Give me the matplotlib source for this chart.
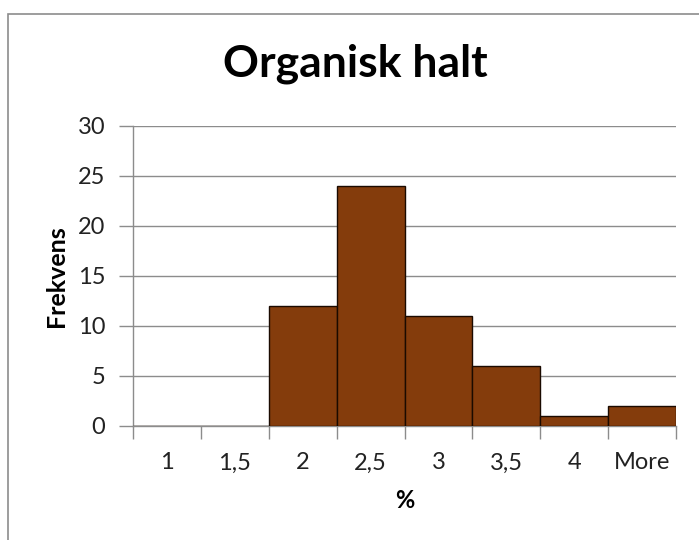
import matplotlib
matplotlib.use("Agg")
import matplotlib.pyplot as plt
from matplotlib.patches import Rectangle
import numpy as np

# Histogram bins and counts
bins = ["1", "1,5", "2", "2,5", "3", "3,5", "4", "More"]
counts = [0, 0, 12, 24, 11, 6, 1, 2]
y_ticks = [0, 5, 10, 15, 20, 25, 30]

plt.rcParams["font.family"] = ["Lato", "DejaVu Sans"]

fig = plt.figure(figsize=(6.99, 5.40), dpi=100)
ax = fig.add_axes([133 / 699, 1 - 426 / 540, 543 / 699, 300 / 540])

# Chart frame, only left and top visible
fig.patches.append(Rectangle((7.5 / 699, -0.1), 1.2, 1 - 13.5 / 540 + 0.1,
                             transform=fig.transFigure, fill=False,
                             edgecolor="#8c8c8c", linewidth=1.2))

x = np.arange(len(bins))
ax.bar(x, counts, width=1.0, color="#843C0C", edgecolor="#1a0a00",
       linewidth=1.0, zorder=3)

ax.set_xlim(-0.5, len(bins) - 0.5)
ax.set_ylim(0, 30)
ax.set_yticks(y_ticks)
ax.set_yticklabels([str(v) for v in y_ticks], fontsize=17, color="#222222")
ax.yaxis.grid(True, color="#8c8c8c", linewidth=1.0, zorder=0)
ax.tick_params(axis="y", length=10, width=1.0, color="#8c8c8c", pad=10)

ax.set_xticks(x)
ax.set_xticklabels(bins, fontsize=17, color="#222222")
ax.set_xticks(np.arange(-0.5, len(bins)), minor=True)
ax.tick_params(axis="x", which="major", length=0, pad=19)
ax.tick_params(axis="x", which="minor", length=9, width=1.0, color="#8c8c8c")

for side in ["top", "right"]:
    ax.spines[side].set_visible(False)
for side in ["left", "bottom"]:
    ax.spines[side].set_color("#8c8c8c")
    ax.spines[side].set_linewidth(1.0)

ax.set_ylabel("Frekvens", fontsize=18, fontweight="bold", va="center")
ax.yaxis.set_label_coords((57 - 133) / 543, 0.5)
ax.set_xlabel("%", fontsize=17, fontweight="bold", va="center")
ax.xaxis.set_label_coords(0.5, (426 - 500) / 300)
fig.text(355 / 699, 1 - 64 / 540, "Organisk halt", ha="center", va="center",
         fontsize=32, fontweight="bold")

fig.savefig("out.png", dpi=100)
